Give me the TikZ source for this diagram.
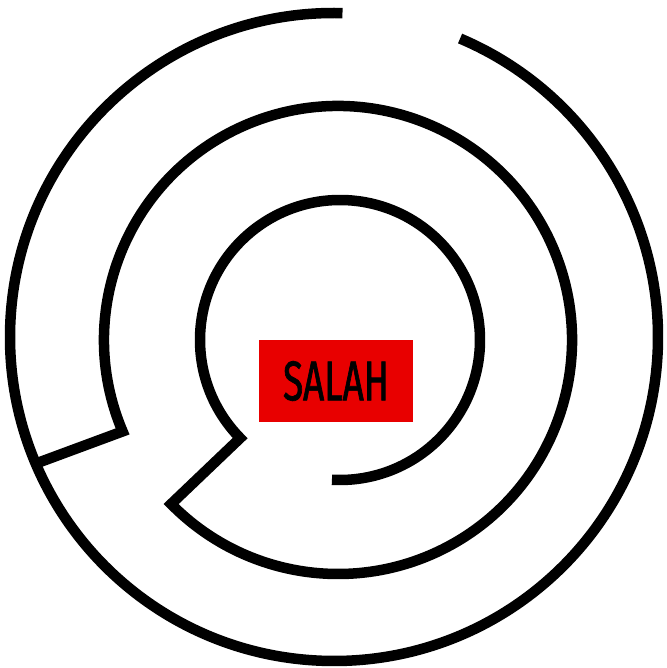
\documentclass[tikz,border=0pt]{standalone}
\usepackage{fontspec}
\usepackage{tikz}
\usetikzlibrary{calc, positioning}
\definecolor{GoalRed}{RGB}{232,0,0}
\newfontfamily\goalfont[FakeStretch=0.66, FakeBold=1.2]{Fira Sans}

\begin{document}
\begin{tikzpicture}[x=1pt, y=1pt,
	wall/.style={line width=10.5pt, black, line join=miter},
	goal/.style={fill=GoalRed, minimum width=154pt, minimum height=82pt, inner sep=0pt,
		font=\goalfont\fontsize{56}{56}\selectfont}]
	\useasboundingbox (0,0) rectangle (666,668);
	\coordinate (oc) at (334,331);
	\coordinate (mc) at (338,328);
	\coordinate (ic) at (340,328);
	\coordinate (oj) at ($(oc)+(203:324)$);
	\coordinate (mj) at ($(mc)+(203:234)$);
	\coordinate (ij) at ($(ic)+(224.5:140)$);
	\draw[wall] ($(oc)+(88.5:324)$) arc[start angle=88.5, end angle=427.1, radius=324];
	\draw[wall] (oj) -- (mj) arc[start angle=203, end angle=-135.5, radius=234]
		-- (ij) arc[start angle=224.5, end angle=-93.3, radius=140];
	\node[goal] (salah) at (336,287) {\raisebox{-5pt}{SALAH}};
\end{tikzpicture}
\end{document}
